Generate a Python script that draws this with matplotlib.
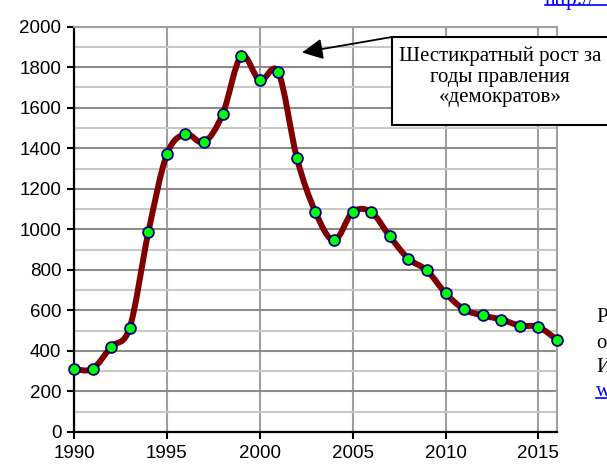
import matplotlib
matplotlib.use("Agg")
import matplotlib.pyplot as plt
from matplotlib.path import Path
from matplotlib.patches import PathPatch, Rectangle
from matplotlib.ticker import MultipleLocator
import numpy as np

years = [1990, 1991, 1992, 1993, 1994, 1995, 1996, 1997, 1998, 1999, 2000, 2001, 2002,
         2003, 2004, 2005, 2006, 2007, 2008, 2009, 2010, 2011, 2012, 2013, 2014, 2015, 2016]
values = [310, 312, 420, 515, 985, 1370, 1470, 1430, 1568, 1855, 1735, 1775, 1352,
          1085, 945, 1085, 1085, 965, 855, 797, 685, 605, 575, 555, 525, 518, 455]
x_ticks = [1990, 1995, 2000, 2005, 2010, 2015]
y_ticks = list(range(0, 2001, 200))
note = "Шестикратный рост за\nгоды правления\n«демократов»"

W, H = 607, 468
fig = plt.figure(figsize=(W / 100, H / 100), dpi=100)
L, R, T, B = 74, 557, 26.7, 432
ax = fig.add_axes([L / W, (H - B) / H, (R - L) / W, (B - T) / H])
ax.set_xlim(1990, 2016)
ax.set_ylim(0, 2000)

# grid
ax.yaxis.set_major_locator(MultipleLocator(200))
ax.yaxis.set_minor_locator(MultipleLocator(100))
ax.set_xticks(x_ticks)
ax.set_yticks(y_ticks)
ax.grid(which="major", axis="y", color="#8c8c8c", lw=1.5, zorder=0)
ax.grid(which="minor", axis="y", color="#c8c8c8", lw=1.5, zorder=0)
ax.grid(which="major", axis="x", color="#a0a0a0", lw=1.5, zorder=0)
ax.set_axisbelow(True)

for s in ["left", "bottom"]:
    ax.spines[s].set_color("black")
    ax.spines[s].set_linewidth(1.6)
for s in ["top", "right"]:
    ax.spines[s].set_color("#a0a0a0")
    ax.spines[s].set_linewidth(1.5)
ax.tick_params(which="major", direction="out", length=5, width=1.5, color="black",
               labelsize=13.5, pad=4)
ax.tick_params(which="minor", length=0)
for lab in ax.get_xticklabels() + ax.get_yticklabels():
    lab.set_fontfamily("Liberation Sans")

# smoothed line (Catmull-Rom -> cubic Bezier), in data coords
pts = np.column_stack([years, values]).astype(float)
n = len(pts)
verts = [tuple(pts[0])]
codes = [Path.MOVETO]
for i in range(n - 1):
    p0 = pts[i - 1] if i > 0 else pts[i]
    p1 = pts[i]
    p2 = pts[i + 1]
    p3 = pts[i + 2] if i + 2 < n else pts[i + 1]
    c1 = p1 + (p2 - p0) / 6.0
    c2 = p2 - (p3 - p1) / 6.0
    verts += [tuple(c1), tuple(c2), tuple(p2)]
    codes += [Path.CURVE4] * 3
ax.add_patch(PathPatch(Path(verts, codes), facecolor="none", edgecolor="#800000",
                       lw=4.3, capstyle="round", joinstyle="round", zorder=3, clip_on=False))
ax.plot(years, values, linestyle="none", marker="o", markersize=7.8,
        markerfacecolor="#00ff00", markeredgecolor="#000080", markeredgewidth=1.3,
        zorder=4, clip_on=False)

# annotation box + arrow
def px(x, y):
    return (x / W, 1 - y / H)

box_l, box_t, box_b = 392, 37, 125
fig.patches.append(Rectangle(px(box_l, box_b), (W + 5 - box_l) / W, (box_b - box_t) / H,
                             transform=fig.transFigure, facecolor="white",
                             edgecolor="black", lw=1.5, zorder=5))
fig.text(500 / W, 1 - 77 / H, note, ha="center", va="center", fontsize=15,
         family="Liberation Serif", linespacing=1.12, zorder=6)
fig.add_artist(matplotlib.patches.FancyArrowPatch(
    px(box_l, box_t), px(302, 52.5), transform=fig.transFigure,
    arrowstyle="-|>,head_length=0.9,head_width=0.45", mutation_scale=14,
    color="black", lw=1.3, shrinkA=0, shrinkB=0, zorder=6))

# cut-off texts at the right
fig.text(545 / W, 1 - 0 / H, "http://", ha="left", va="center", fontsize=15,
         family="Liberation Serif", color="#0000ff")
fig.add_artist(plt.Line2D([545 / W, 1.0], [1 - 5 / H] * 2, transform=fig.transFigure,
                          color="#0000ff", lw=1.2))
for txt, yy, col in [("Р", 318, "black"), ("о", 343, "black"), ("И", 368, "black"),
                     ("w", 392, "#0000ff")]:
    fig.text(596 / W, 1 - yy / H, txt, ha="left", va="center", fontsize=15,
             family="Liberation Serif", color=col)
fig.add_artist(plt.Line2D([596 / W, 1.0], [1 - 398 / H] * 2, transform=fig.transFigure,
                          color="#0000ff", lw=1.2))

fig.savefig("out.png", dpi=100)
